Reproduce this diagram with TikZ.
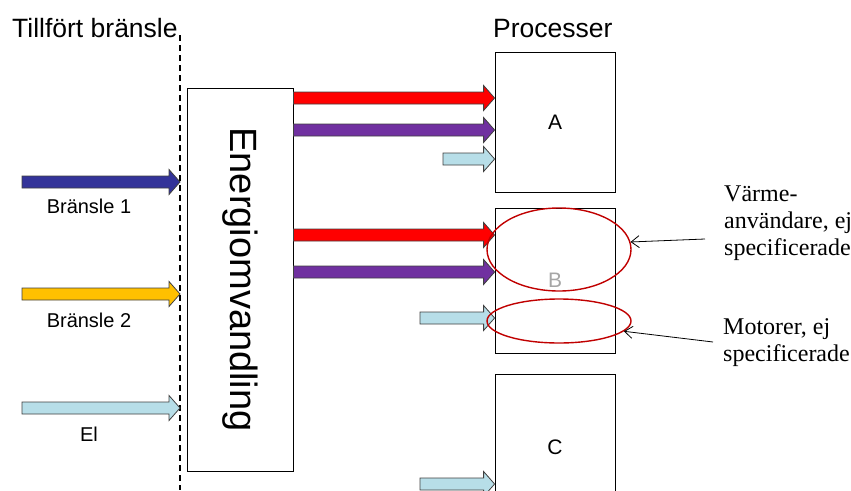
\documentclass[tikz,border=0pt]{standalone}
\usepackage{fontspec}
\setmainfont{Liberation Serif}
\setsansfont{Liberation Sans}
\usetikzlibrary{calc,shapes.geometric,arrows.meta}

\definecolor{heatred}{HTML}{FF0000}
\definecolor{steamviolet}{HTML}{7030A0}
\definecolor{elblue}{HTML}{B7DEE8}
\definecolor{fuelone}{HTML}{333399}
\definecolor{fueltwo}{HTML}{FFC000}
\definecolor{ringred}{HTML}{C00000}

% block arrow from #2 to #3, filled with #1
\newcommand{\flow}[3]{%
  \draw[flowline,fill=#1] let \p1=(#2), \p2=(#3) in
    (\x1,\y1+6pt) -- (\x2-11pt,\y2+6pt) -- (\x2-11pt,\y2+12.5pt) -- (\x2,\y2)
    -- (\x2-11pt,\y2-12.5pt) -- (\x2-11pt,\y2-6pt) -- (\x1,\y1-6pt) -- cycle;}

\begin{document}
\begin{tikzpicture}[x=1pt,y=-1pt,
  box/.style={draw,line width=0.8pt,inner sep=0pt,font=\sffamily\fontsize{21}{24}\selectfont},
  flowline/.style={draw=black!75,line width=0.8pt},
  ring/.style={ellipse,draw=ringred,line width=1.4pt,inner sep=0pt},
  note/.style={align=left,inner sep=0pt,anchor=north west,font=\fontsize{24}{27}\selectfont},
  head/.style={font=\sffamily\fontsize{26.5}{30}\selectfont,inner sep=0pt,anchor=base west},
  tag/.style={font=\sffamily\fontsize{20}{24}\selectfont,inner sep=0pt,anchor=base},
  pointer/.style={-{Straight Barb[length=8pt,width=12pt]},line width=0.8pt}]
\clip (0,0) rectangle (851,490);

\node[head] (inTitle) at (12,37) {Tillfört bränsle};
\node[head] (procTitle) at (493,37) {Processer};

\coordinate (cutTop) at (180,35);
\coordinate (cutBot) at (180,490);
\draw[line width=1.2pt,dash pattern=on 6pt off 4pt] (cutTop) -- (cutBot);

% conversion and processes
\node[box,rotate=-90,minimum width=383,minimum height=106,font=\sffamily\fontsize{38}{40}\selectfont]
  (conv) at (240,279.5) {Energiomvandling};
\node[box,minimum width=120,minimum height=140] (procA) at (555,122) {A};
\node[box,minimum width=120,minimum height=145,text=black!35] (procB) at (555,280.5) {B};
\node[box,minimum width=120,minimum height=146] (procC) at (555,447) {C};

% supplied fuels
\flow{fuelone}{22,182}{cutTop|-0,182}
\flow{fueltwo}{22,294}{cutTop|-0,294}
\flow{elblue}{22,408}{cutTop|-0,408}
\node[tag] (fuelOneTag) at (89,213) {Bränsle 1};
\node[tag] (fuelTwoTag) at (89,327) {Bränsle 2};
\node[tag] (elTag) at (89,441) {El};

% deliveries
\flow{heatred}{conv.north|-0,98}{procA.west|-0,98}
\flow{steamviolet}{conv.north|-0,130}{procA.west|-0,130}
\flow{elblue}{443,159}{procA.west|-0,159}
\flow{heatred}{conv.north|-0,235}{procB.west|-0,235}
\flow{steamviolet}{conv.north|-0,272}{procB.west|-0,272}
\flow{elblue}{420,318}{procB.west|-0,318}
\flow{elblue}{420,484}{procC.west|-0,484}

\node[ring,minimum width=144,minimum height=83] (heatRing) at (559,249.5) {};
\node[ring,minimum width=144,minimum height=44] (motorRing) at (559,321) {};

\node[note] (heatNote) at (724,186) {Värme-\\användare, ej\\specificerade};
\node[note] (motorNote) at (723,318) {Motorer, ej\\specificerade};
\coordinate (heatFrom) at (705,239);
\coordinate (motorFrom) at (713,342);
\draw[pointer] (heatFrom) -- (heatRing.6);
\draw[pointer] (motorFrom) -- (motorRing.-9);
\end{tikzpicture}
\end{document}
